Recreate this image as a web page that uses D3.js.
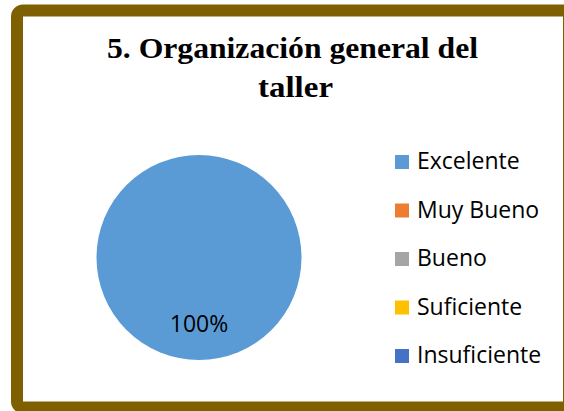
<!DOCTYPE html>
<html>
<head>
<meta charset="utf-8">
<script src="https://cdn.jsdelivr.net/npm/d3@7"></script>
<style>
  body { margin: 0; background: #fff; }
</style>
</head>
<body>
<div id="chart"></div>
<script>
// data
var categories = ["Excelente", "Muy Bueno", "Bueno", "Suficiente", "Insuficiente"]
var values = [100, 0, 0, 0, 0]
var colors = ["#5B9BD5", "#ED7D31", "#A5A5A5", "#FFC000", "#4472C4"]
var titleLines = ["5. Organización general del", "taller"]

var width = 564, height = 411

var svg = d3.select("#chart")
  .append("svg")
    .attr("width", width)
    .attr("height", height)

// frame
svg.append("rect")
  .attr("x", 17)
  .attr("y", 10.5)
  .attr("width", 552)
  .attr("height", 397)
  .attr("rx", 6)
  .style("fill", "#fff")
  .style("stroke", "#7F6000")
  .style("stroke-width", 12)

// title (stretched a bit wider than the serif font gives)
var titleWidths = [371, 75]
svg.selectAll(".title")
  .data(titleLines)
  .enter()
  .append("text")
    .attr("class", "title")
    .attr("x", function(d, i) { return i == 0 ? 292.5 : 295.5 })
    .attr("y", function(d, i) { return 58 + i * 39 })
    .attr("text-anchor", "middle")
    .attr("textLength", function(d, i) { return titleWidths[i] })
    .attr("lengthAdjust", "spacingAndGlyphs")
    .style("font-family", "'Liberation Serif', 'Times New Roman', serif")
    .style("font-weight", "bold")
    .style("font-size", "29px")
    .style("fill", "#000")
    .text(function(d) { return d })

// pie
var radius = 102.5
var pieG = svg.append("g")
  .attr("transform", "translate(199,257.5)")

var pie = d3.pie().sort(null).value(function(d) { return d.value })
var arc = d3.arc().innerRadius(0).outerRadius(radius)
var pieData = pie(categories.map(function(c, i) { return {name: c, value: values[i], color: colors[i]} }))

pieG.selectAll("path")
  .data(pieData.filter(function(d) { return d.data.value > 0 }))
  .enter()
  .append("path")
    .attr("d", arc)
    .style("fill", function(d) { return d.data.color })

// data label (single full slice: placed low inside the pie)
var total = d3.sum(values)
pieG.selectAll(".lbl")
  .data(pieData.filter(function(d) { return d.data.value > 0 }))
  .enter()
  .append("text")
    .attr("class", "lbl")
    .attr("x", 0)
    .attr("y", radius * 0.73)
    .attr("text-anchor", "middle")
    .style("font-family", "'Open Sans', sans-serif")
    .style("font-size", "23px")
    .style("fill", "#000")
    .text(function(d) { return Math.round(d.data.value / total * 100) + "%" })

// legend
var legend = svg.selectAll(".legend")
  .data(categories)
  .enter()
  .append("g")
    .attr("class", "legend")
    .attr("transform", function(d, i) { return "translate(395," + (155 + i * 48.5) + ")" })

legend.append("rect")
  .attr("width", 14)
  .attr("height", 14)
  .style("fill", function(d, i) { return colors[i] })

legend.append("text")
  .attr("x", 22)
  .attr("y", 14)
  .style("font-family", "'Open Sans', sans-serif")
  .style("font-size", "23px")
  .style("fill", "#000")
  .text(function(d) { return d })
</script>
</body>
</html>
